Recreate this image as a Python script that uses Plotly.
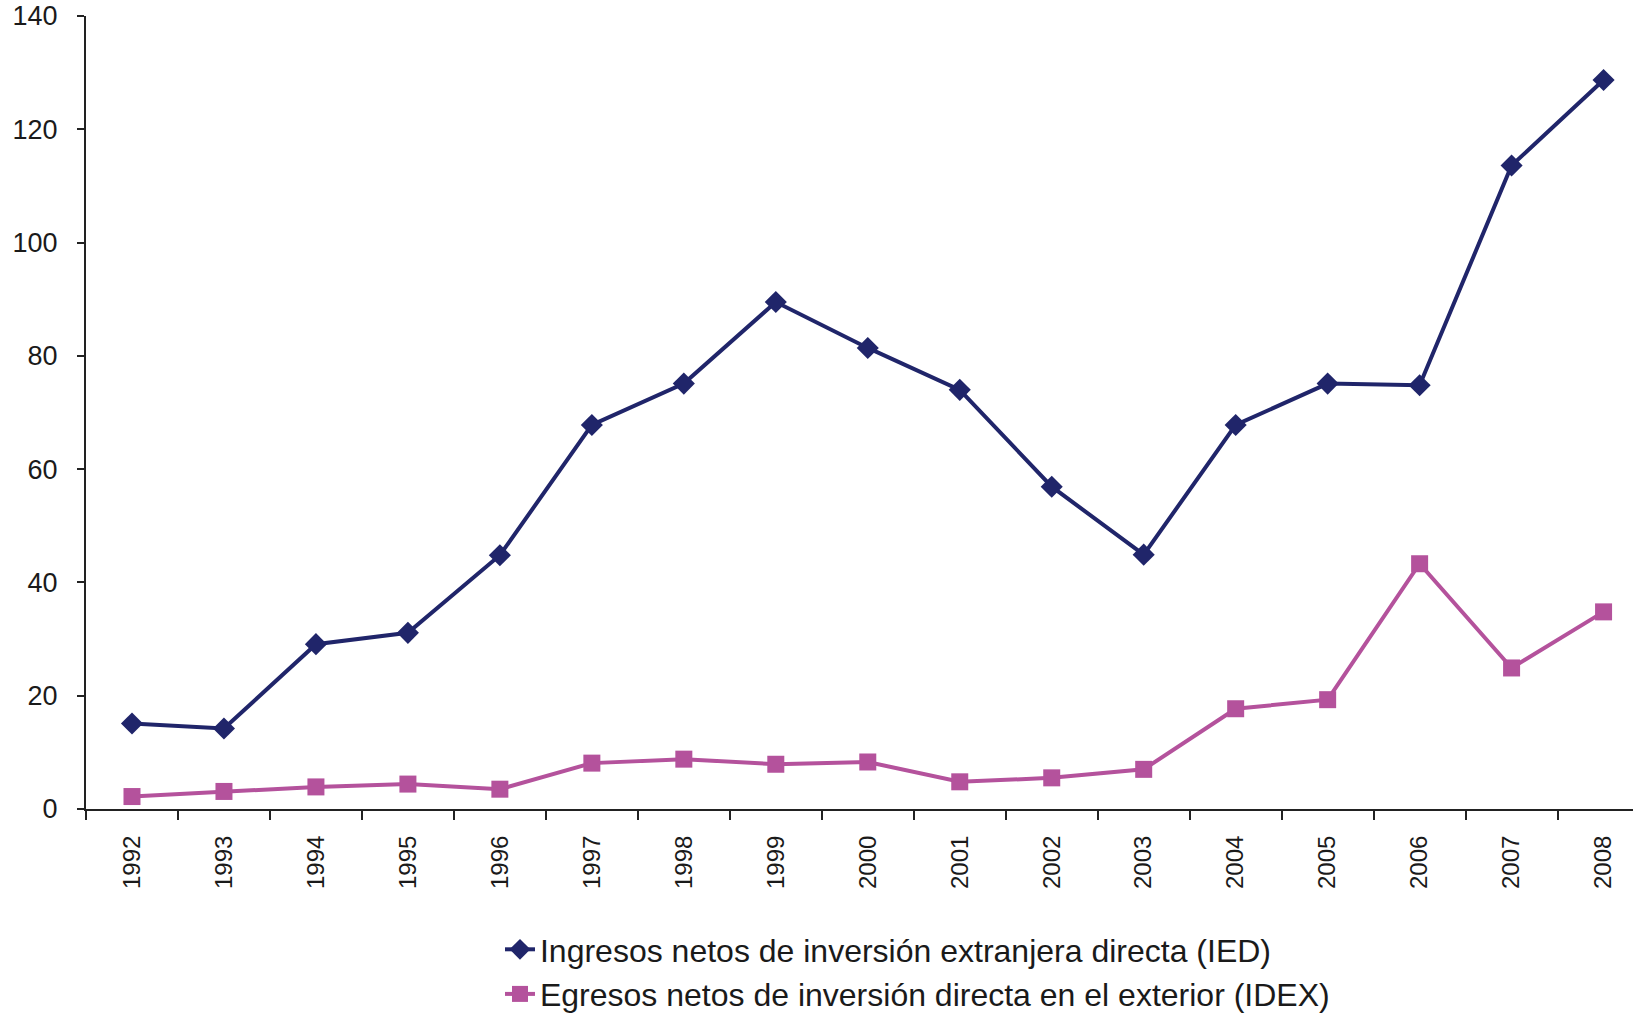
import plotly.graph_objects as go

years = [str(y) for y in range(1992, 2009)]
ied = [15.1, 14.2, 29.1, 31.1, 44.8, 67.8, 75.1, 89.5, 81.4, 74.0, 56.9, 44.9, 67.8, 75.1, 74.8, 113.6, 128.7]
idex = [2.2, 3.1, 3.9, 4.4, 3.5, 8.1, 8.8, 7.9, 8.3, 4.8, 5.5, 7.0, 17.7, 19.3, 43.3, 24.9, 34.8]
y_ticks = [0, 20, 40, 60, 80, 100, 120, 140]

name_ied = "Ingresos netos de inversión extranjera directa (IED)"
name_idex = "Egresos netos de inversión directa en el exterior (IDEX)"

navy = "#20256A"
pink = "#B4529C"

fig = go.Figure()
fig.add_trace(go.Scatter(x=years, y=ied, name=name_ied, mode="lines+markers",
                         line=dict(color=navy, width=4),
                         marker=dict(symbol="diamond", size=17, color=navy)))
fig.add_trace(go.Scatter(x=years, y=idex, name=name_idex, mode="lines+markers",
                         line=dict(color=pink, width=4),
                         marker=dict(symbol="square", size=17, color=pink)))

fig.update_layout(
    width=1633, height=1014,
    margin=dict(l=86, r=0, t=16, b=205, autoexpand=False),
    plot_bgcolor="white", paper_bgcolor="white",
    font=dict(family="Liberation Sans, Arial", color="#1a1a1a", size=26),
    showlegend=True,
    legend=dict(x=0.2676, y=-0.1425, xanchor="left", yanchor="top",
                font=dict(size=32, color="#1a1a1a"), tracegroupgap=0,
                itemwidth=30, bgcolor="rgba(0,0,0,0)"),
)
fig.update_xaxes(type="category", range=[-0.5, 16.32], tickson="boundaries",
                 ticks="outside", ticklen=9, tickwidth=2, tickcolor="#222",
                 showline=True, linecolor="#222", linewidth=2, showgrid=False,
                 tickangle=-90, tickfont=dict(size=24), zeroline=False,
                 automargin=False, ticklabelstandoff=15, ticklabeloverflow="allow")
fig.update_yaxes(range=[0, 140], tickvals=y_ticks, ticks="outside", ticklen=7,
                 tickwidth=2, tickcolor="#222", showline=True, linecolor="#222",
                 linewidth=2, showgrid=False, zeroline=False, automargin=False,
                 tickfont=dict(size=27), ticklabelstandoff=14, ticklabeloverflow="allow")

fig.write_html("out.html", config={"displayModeBar": False},
               post_script="document.body.style.margin='0';document.body.style.overflow='hidden';")
